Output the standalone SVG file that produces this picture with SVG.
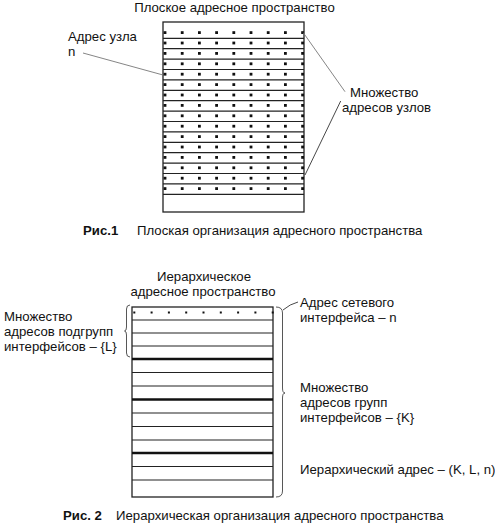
<svg xmlns="http://www.w3.org/2000/svg" width="495" height="527" viewBox="0 0 495 527">
<defs>
<style>
text{font-family:"Liberation Sans",Arial,sans-serif;font-size:13.2px;fill:#111}
.b{font-weight:bold}
.box{fill:#fff;stroke:#222;stroke-width:1.3}
.ln{stroke:#222;stroke-width:1.2}
.thk{stroke:#111;stroke-width:2.6}
.dot{fill:#111}
.lead{fill:none;stroke:#777;stroke-width:0.9}
.br{fill:none;stroke:#444;stroke-width:0.9}
</style>
<rect id="d1" x="-1.4" y="-1.4" width="2.8" height="2.8" class="dot"/>
<rect id="d2" x="-1" y="-1" width="2" height="2" class="dot"/>
<g id="row1">
<use href="#d1" x="165"/><use href="#d1" x="182.2"/><use href="#d1" x="199.4"/><use href="#d1" x="216.6"/><use href="#d1" x="233.8"/><use href="#d1" x="251"/><use href="#d1" x="268.2"/><use href="#d1" x="285.4"/><use href="#d1" x="302.6"/>
</g>
</defs>
<rect width="495" height="527" fill="#fff"/>

<g id="fig1">
<text x="234.5" y="12" text-anchor="middle">Плоское адресное пространство</text>
<g id="flat-space">
<rect class="box" x="163" y="22" width="141" height="190"/>
<g id="flat-lines">
<line class="ln" x1="163" x2="304" y1="38.3" y2="38.3"/>
<line class="ln" x1="163" x2="304" y1="48.7" y2="48.7"/>
<line class="ln" x1="163" x2="304" y1="59.1" y2="59.1"/>
<line class="ln" x1="163" x2="304" y1="69.5" y2="69.5"/>
<line class="ln" x1="163" x2="304" y1="79.9" y2="79.9"/>
<line class="ln" x1="163" x2="304" y1="90.3" y2="90.3"/>
<line class="ln" x1="163" x2="304" y1="100.7" y2="100.7"/>
<line class="ln" x1="163" x2="304" y1="111.1" y2="111.1"/>
<line class="ln" x1="163" x2="304" y1="121.5" y2="121.5"/>
<line class="ln" x1="163" x2="304" y1="131.9" y2="131.9"/>
<line class="ln" x1="163" x2="304" y1="142.3" y2="142.3"/>
<line class="ln" x1="163" x2="304" y1="152.7" y2="152.7"/>
<line class="ln" x1="163" x2="304" y1="163.1" y2="163.1"/>
<line class="ln" x1="163" x2="304" y1="173.5" y2="173.5"/>
<line class="ln" x1="163" x2="304" y1="183.9" y2="183.9"/>
<line class="ln" x1="163" x2="304" y1="194.3" y2="194.3"/>
</g>
<g id="flat-dots">
<use href="#row1" y="32.6"/><use href="#row1" y="43"/><use href="#row1" y="53.4"/><use href="#row1" y="63.8"/>
<use href="#row1" y="74.2"/><use href="#row1" y="84.6"/><use href="#row1" y="95"/><use href="#row1" y="105.4"/>
<use href="#row1" y="115.8"/><use href="#row1" y="126.2"/><use href="#row1" y="136.6"/><use href="#row1" y="147"/>
<use href="#row1" y="157.4"/><use href="#row1" y="167.8"/><use href="#row1" y="178.2"/><use href="#row1" y="188.6"/>
</g>
</g>
<g id="node-addr">
<text x="68" y="41">Адрес узла</text>
<text x="68" y="56">n</text>
</g>
<g id="node-set">
<text x="350" y="97">Множество</text>
<text x="342" y="112">адресов узлов</text>
</g>
<g id="connectors1">
<line class="lead" x1="83" y1="53" x2="163" y2="75"/>
<line class="lead" x1="303.3" y1="32.7" x2="345" y2="91.7"/>
<line class="lead" x1="340.7" y1="101" x2="305" y2="175" style="stroke:#333"/>
</g>
<g id="cap1">
<text class="b" x="83" y="235">Рис.1</text>
<text x="137" y="235">Плоская организация адресного пространства</text>
</g>
</g>

<g id="fig2">
<text x="204" y="281" text-anchor="middle">Иерархическое</text>
<text x="203" y="296" text-anchor="middle">адресное пространство</text>
<g id="hier-space">
<rect class="box" x="132" y="307" width="141" height="190"/>
<g id="hier-lines">
<line class="ln" x1="132" x2="273" y1="320" y2="320"/>
<line class="ln" x1="132" x2="273" y1="333" y2="333"/>
<line class="ln" x1="132" x2="273" y1="346" y2="346"/>
<line class="thk" x1="132" x2="273" y1="359" y2="359"/>
<line class="ln" x1="132" x2="273" y1="372.5" y2="372.5"/>
<line class="ln" x1="132" x2="273" y1="386" y2="386"/>
<line class="thk" x1="132" x2="273" y1="399.5" y2="399.5"/>
<line class="ln" x1="132" x2="273" y1="413" y2="413"/>
<line class="ln" x1="132" x2="273" y1="426.5" y2="426.5"/>
<line class="ln" x1="132" x2="273" y1="440" y2="440"/>
<line class="thk" x1="132" x2="273" y1="453" y2="453"/>
<line class="ln" x1="132" x2="273" y1="466.5" y2="466.5"/>
<line class="ln" x1="132" x2="273" y1="480" y2="480"/>
</g>
<g id="hier-dots">
<use href="#d2" x="134.3" y="312.5"/><use href="#d2" x="151.6" y="312.5"/><use href="#d2" x="168.9" y="312.5"/><use href="#d2" x="186.2" y="312.5"/><use href="#d2" x="203.5" y="312.5"/><use href="#d2" x="220.8" y="312.5"/><use href="#d2" x="238.1" y="312.5"/><use href="#d2" x="255.4" y="312.5"/><use href="#d2" x="272.7" y="312.5"/>
</g>
</g>
<g id="node-L">
<text x="4" y="321">Множество</text>
<text x="4" y="336">адресов подгрупп</text>
<text x="4" y="351">интерфейсов – {L}</text>
</g>
<g id="node-n">
<text x="300" y="306.5">Адрес сетевого</text>
<text x="300" y="321.5">интерфейса – n</text>
</g>
<g id="node-K">
<text x="300" y="392">Множество</text>
<text x="300" y="407">адресов групп</text>
<text x="300" y="422">интерфейсов – {K}</text>
</g>
<g id="node-KLn">
<text x="300" y="474">Иерархический адрес – (K, L, n)</text>
</g>
<g id="connectors2">
<path class="br" d="M130,305 Q126.5,305 126.5,309 L126.5,327 Q126.5,331 124.5,331 Q126.5,331 126.5,335 L126.5,353 Q126.5,357 130,357"/>
<path class="br" d="M276,307 Q282.5,307 282.5,313 L282.5,388 Q282.5,393 285,393 Q282.5,393 282.5,398 L282.5,491 Q282.5,497 276,497"/>
<path class="lead" d="M283,310 Q290,304 298,302" style="stroke:#333"/>
</g>
<g id="cap2">
<text class="b" x="63" y="520">Рис. 2</text>
<text x="116" y="520">Иерархическая организация адресного пространства</text>
</g>
</g>
</svg>
